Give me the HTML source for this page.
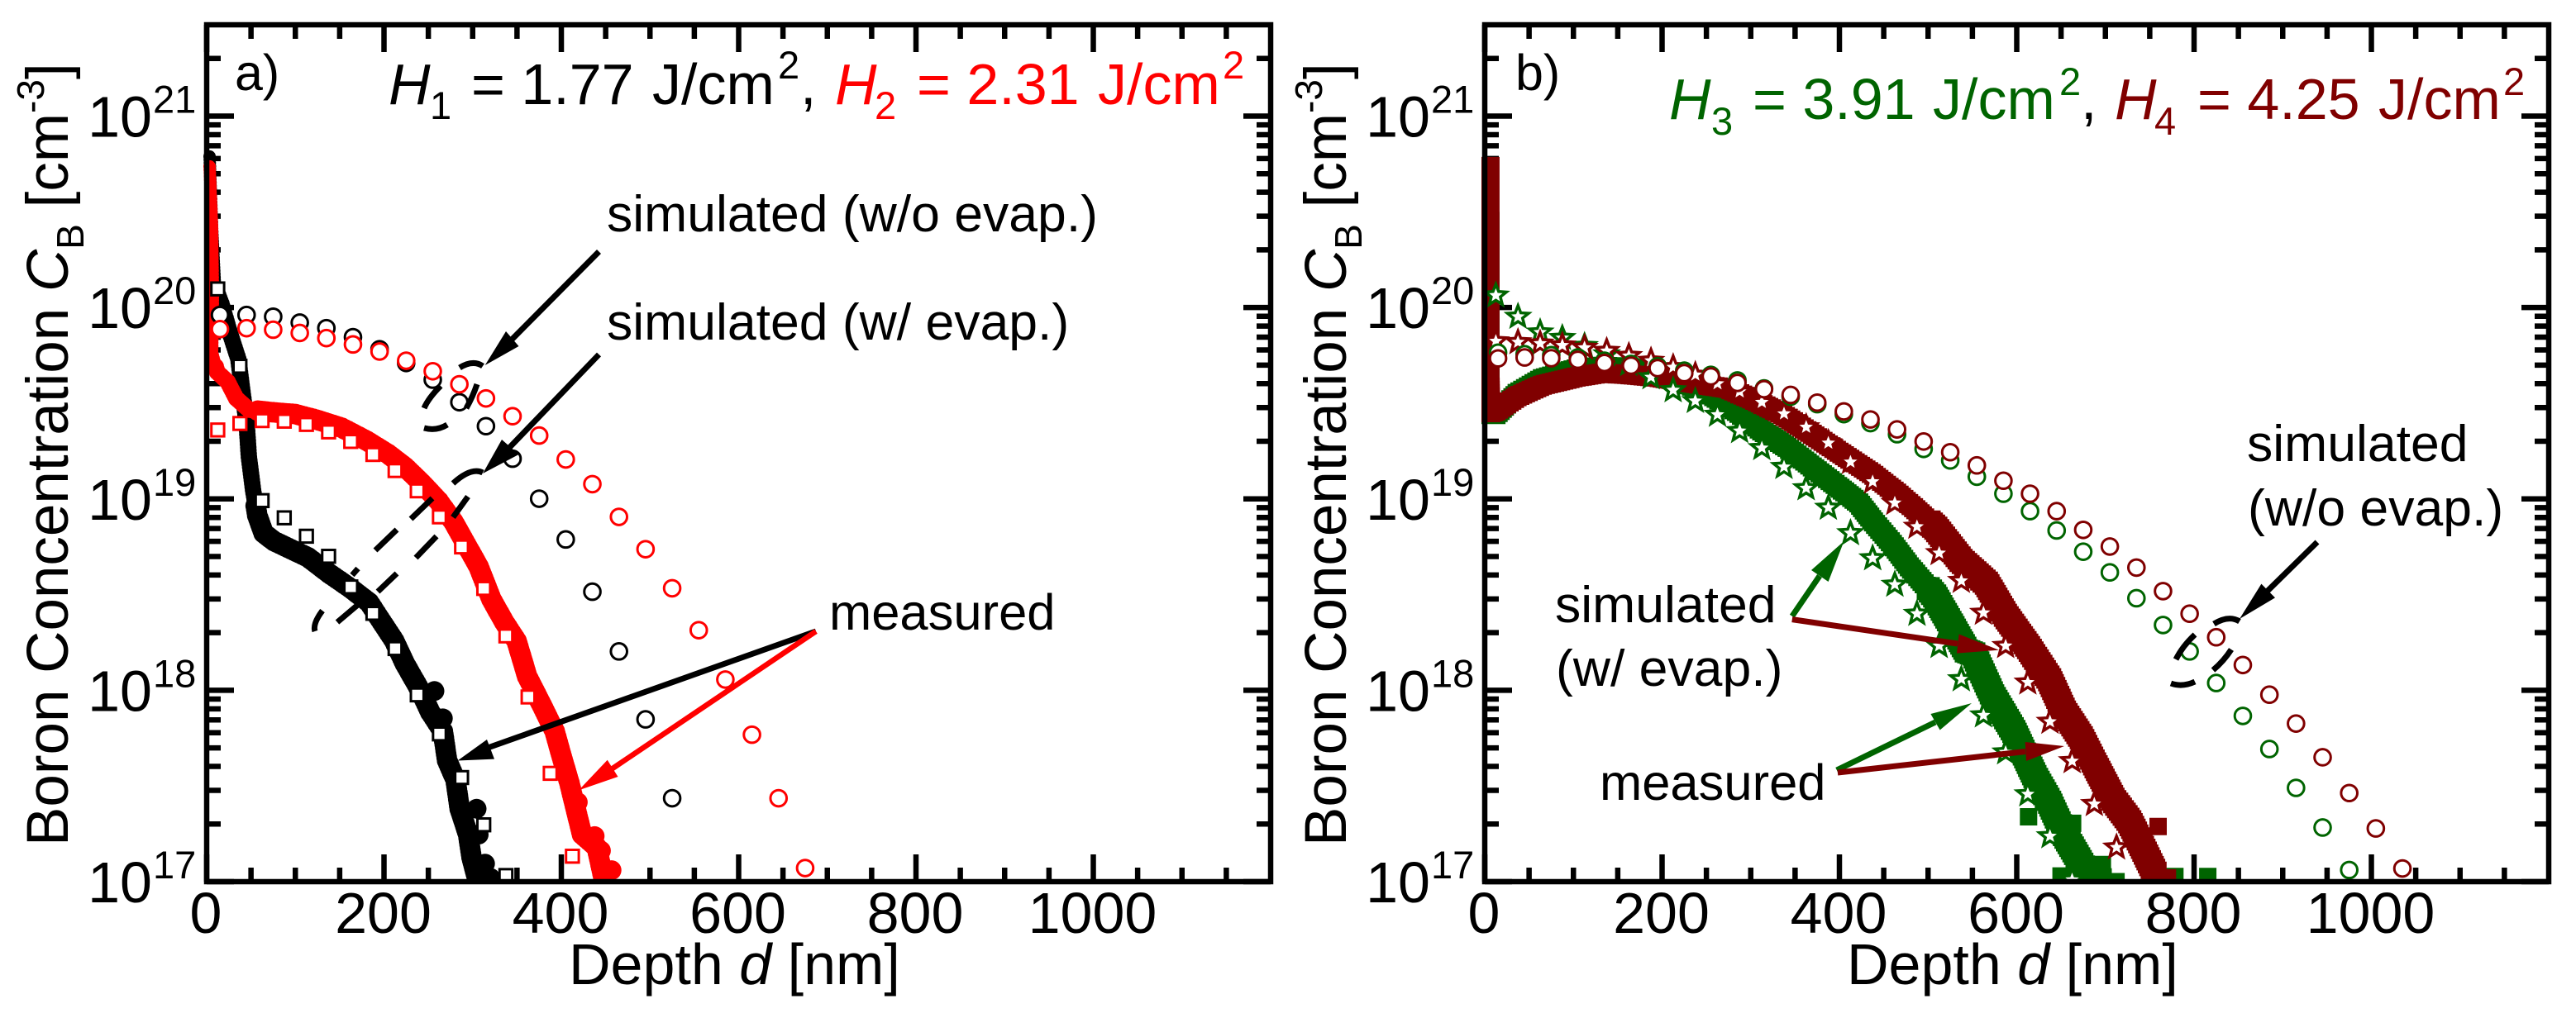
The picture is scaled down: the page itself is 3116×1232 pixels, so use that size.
<!DOCTYPE html>
<html lang="en">
<head>
<meta charset="utf-8">
<title>Boron concentration depth profiles</title>
<style>
html,body{margin:0;padding:0;background:#fff;}
body{width:3116px;height:1232px;overflow:hidden;}
svg{display:block;}
text{font-family:"Liberation Sans",Arial,sans-serif;}
</style>
</head>
<body>
<svg id="figure" xmlns="http://www.w3.org/2000/svg" width="3116" height="1232" viewBox="0 0 3116 1232">
  <defs>
    <clipPath id="clip-a"><rect x="246" y="27" width="1294" height="1040"/></clipPath>
    <clipPath id="clip-b"><rect x="1792" y="27" width="1294" height="1040"/></clipPath>
  </defs>
  <rect x="0" y="0" width="3116" height="1232" fill="#fff"/>

  <g id="panel-a">
    <g id="a-ticks"></g>
    <g id="a-marks" clip-path="url(#clip-a)"></g>
    <g id="a-frame"></g>
    <g id="a-ticklabels"></g>

    <text transform="translate(82,1024) rotate(-90)" font-size="71">Boron Concentration <tspan font-style="italic">C</tspan><tspan font-size="46" dy="19">B</tspan><tspan dy="-19"> [cm</tspan><tspan font-size="46" dy="-29">-3</tspan><tspan dy="29">]</tspan></text>
    <text x="688" y="1191" font-size="70">Depth <tspan font-style="italic">d</tspan> [nm]</text>
    <text x="284" y="109" font-size="61">a)</text>

    <g fill="#000">
      <text x="470" y="126" font-size="70" font-style="italic">H</text>
      <text x="520" y="144" font-size="47">1</text>
      <text x="570" y="126" font-size="70">= 1.77</text>
      <text x="789" y="126" font-size="70">J/cm</text>
      <text x="941" y="95" font-size="47">2</text>
      <text x="968" y="126" font-size="70">,</text>
    </g>
    <g fill="#ff0000">
      <text x="1010" y="126" font-size="70" font-style="italic">H</text>
      <text x="1058" y="144" font-size="47">2</text>
      <text x="1109" y="126" font-size="70">= 2.31</text>
      <text x="1328" y="126" font-size="70">J/cm</text>
      <text x="1479" y="95" font-size="47">2</text>
    </g>

    <text x="734" y="280" font-size="62.5">simulated (w/o evap.)</text>
    <text x="734" y="411" font-size="62.5">simulated (w/ evap.)</text>
    <text x="1003" y="762" font-size="61.5">measured</text>

    <g>
      <line x1="724.5" y1="304.5" x2="615" y2="415" stroke="#000" stroke-width="7"/>
      <polygon points="586.7,442 612,401 627.5,419" fill="#000"/>
    </g>
    <g>
      <line x1="724.5" y1="429" x2="613" y2="545" stroke="#000" stroke-width="7"/>
      <polygon points="584,573 607,532 627.5,550" fill="#000"/>
    </g>
    <g>
      <line x1="987" y1="764" x2="590" y2="905" stroke="#000" stroke-width="7"/>
      <polygon points="553.6,920.5 589,895 598,918.6" fill="#000"/>
    </g>
    <g>
      <line x1="987" y1="764" x2="738" y2="932" stroke="#ff0000" stroke-width="6.5"/>
      <polygon points="700,956.4 734.7,919.8 747.5,940" fill="#ff0000"/>
    </g>

    <g fill="none" stroke="#000" stroke-width="7">
      <path d="M556,445 Q572,435 584,443"/>
      <path d="M577,465 Q572,480 564,494"/>
      <path d="M541,514 Q528,522 513,518"/>
      <path d="M513,494 Q518,482 533,467"/>
    </g>
    <g fill="none" stroke="#000" stroke-width="7">
      <path d="M548,585 Q570,565 584,572"/>
      <path d="M523,603 L497,628"/>
      <path d="M480,641 L454,666"/>
      <path d="M566,601 L548,626"/>
      <path d="M528,649 L503,675"/>
      <path d="M480,694 L457,716"/>
      <path d="M433,688 L426,696"/>
      <path d="M434,731 L408,753"/>
      <path d="M390,739 Q378,755 381,764"/>
    </g>
  </g>

  <g id="panel-b">
    <g id="b-ticks"></g>
    <g id="b-marks" clip-path="url(#clip-b)"></g>
    <g id="b-frame"></g>
    <g id="b-ticklabels"></g>

    <text transform="translate(1628,1024) rotate(-90)" font-size="71">Boron Concentration <tspan font-style="italic">C</tspan><tspan font-size="46" dy="19">B</tspan><tspan dy="-19"> [cm</tspan><tspan font-size="46" dy="-29">-3</tspan><tspan dy="29">]</tspan></text>
    <text x="2234" y="1191" font-size="70">Depth <tspan font-style="italic">d</tspan> [nm]</text>
    <text x="1833" y="109" font-size="61">b)</text>

    <g fill="#006400">
      <text x="2019" y="144" font-size="70" font-style="italic">H</text>
      <text x="2070" y="163" font-size="47">3</text>
      <text x="2120" y="144" font-size="70">= 3.91</text>
      <text x="2338" y="144" font-size="70">J/cm</text>
      <text x="2491" y="115" font-size="47">2</text>
    </g>
    <text x="2517" y="144" font-size="70">,</text>
    <g fill="#800000">
      <text x="2558" y="144" font-size="70" font-style="italic">H</text>
      <text x="2606" y="163" font-size="47">4</text>
      <text x="2658" y="144" font-size="70">= 4.25</text>
      <text x="2877" y="144" font-size="70">J/cm</text>
      <text x="3028" y="115" font-size="47">2</text>
    </g>

    <text x="1881" y="753" font-size="62.5">simulated</text>
    <text x="1882" y="830" font-size="62.5">(w/ evap.)</text>
    <text x="1935" y="968" font-size="61.5">measured</text>
    <text x="2718" y="558" font-size="62.5">simulated</text>
    <text x="2719" y="636" font-size="62.5">(w/o evap.)</text>

    <g>
      <line x1="2167.8" y1="745.7" x2="2201" y2="697" stroke="#006400" stroke-width="7"/>
      <polygon points="2230.5,655 2191,690 2211.6,704" fill="#006400"/>
    </g>
    <g>
      <line x1="2167.8" y1="749.6" x2="2368" y2="779" stroke="#800000" stroke-width="7"/>
      <polygon points="2418,786.7 2369.6,767.5 2367,790.6" fill="#800000"/>
    </g>
    <g>
      <line x1="2221.8" y1="932" x2="2341" y2="874" stroke="#006400" stroke-width="7"/>
      <polygon points="2385,851 2335.4,864 2346.6,883.5" fill="#006400"/>
    </g>
    <g>
      <line x1="2222.9" y1="935" x2="2450" y2="909.5" stroke="#800000" stroke-width="7"/>
      <polygon points="2497,903 2449.7,898 2451,921" fill="#800000"/>
    </g>
    <g>
      <line x1="2803" y1="656" x2="2743" y2="715" stroke="#000" stroke-width="7"/>
      <polygon points="2709,749 2735.4,706.6 2752,723.4" fill="#000"/>
    </g>
    <g fill="none" stroke="#000" stroke-width="7">
      <path d="M2678,755 Q2696,744 2709,752"/>
      <path d="M2699,786 Q2690,800 2677,811"/>
      <path d="M2655,825 Q2640,832 2626,827"/>
      <path d="M2632,798 Q2640,782 2655,768"/>
    </g>
  </g>
</svg>

<script>
// ---- Axis tick values ----
const xMajorTicks = [0, 200, 400, 600, 800, 1000];
const xMinorTicks = [50, 100, 150, 250, 300, 350, 450, 500, 550, 650, 700, 750, 850, 900, 950, 1050, 1100, 1150];
const xTickLabels = ['0', '200', '400', '600', '800', '1000'];
const yDecades = [17, 18, 19, 20, 21];
const yTickBase = '10';
const yTickExponents = ['17', '18', '19', '20', '21'];
const yMinorMultipliers = [2, 3, 4, 5, 6, 7, 8, 9];

// ---- Panel a: simulated without evaporation (circles), log10(C) ----
const aCircleDepthBlack = [15, 45, 75, 105, 135, 165, 195, 225, 255, 285, 315, 345, 375, 405, 435, 465, 495, 525];
const aCircleLogBlack = [19.961, 19.961, 19.952, 19.921, 19.892, 19.845, 19.782, 19.710, 19.623, 19.505, 19.380, 19.210, 19.001, 18.788, 18.515, 18.203, 17.848, 17.436];
const aCircleDepthRed = [15, 45, 75, 105, 135, 165, 195, 225, 255, 285, 315, 345, 375, 405, 435, 465, 495, 525, 555, 585, 615, 645, 675];
const aCircleLogRed = [19.887, 19.892, 19.884, 19.867, 19.840, 19.807, 19.770, 19.722, 19.667, 19.599, 19.525, 19.432, 19.331, 19.206, 19.077, 18.906, 18.737, 18.533, 18.314, 18.056, 17.768, 17.436, 17.071];

// ---- Panel a: simulated with evaporation (squares) ----
const aSquareDepthBlack = [12.5, 37.5, 62.5, 87.5, 112.5, 137.5, 162.5, 187.5, 212.5, 237.5, 262.5, 287.5, 312.5, 337.5];
const aSquareLogBlack = [20.097, 19.693, 18.991, 18.901, 18.805, 18.700, 18.540, 18.402, 18.218, 17.976, 17.772, 17.544, 17.297, 17.032];
const aSquareDepthRed = [12.5, 37.5, 62.5, 87.5, 112.5, 137.5, 162.5, 187.5, 212.5, 237.5, 262.5, 287.5, 312.5, 337.5, 362.5, 387.5, 412.5];
const aSquareLogRed = [19.360, 19.394, 19.409, 19.406, 19.389, 19.350, 19.300, 19.232, 19.148, 19.042, 18.906, 18.749, 18.532, 18.284, 17.965, 17.566, 17.133];

// ---- Panel a: measured profiles ----
const aMeasuredDepthBlack = [3.3, 6.2, 9.5, 16.6, 26.2, 35.7, 40.4, 45.2, 47.6, 52.3, 57.1, 64.2, 76.1, 95.1, 114.2, 137.9, 161.7, 183.1, 197.4, 211.7, 223.6, 240.2, 252.1, 266.4, 271.2, 280.7, 285.4, 294.9, 298.7, 304.4, 309.2];
const aMeasuredLogBlack = [20.789, 20.413, 20.106, 20.020, 19.867, 19.730, 19.560, 19.389, 19.218, 19.047, 18.914, 18.821, 18.779, 18.737, 18.695, 18.611, 18.535, 18.459, 18.358, 18.257, 18.139, 18.004, 17.886, 17.785, 17.633, 17.532, 17.381, 17.246, 17.128, 17.027, 16.95];
const aScatterDepthBlack = [256.9, 266.4, 304.4, 306.8, 313.9, 320];
const aScatterLogBlack = [17.996, 17.853, 17.381, 17.246, 17.094, 17.02];
const aMeasuredDepthRed = [3.3, 6.2, 7.1, 6.2, 11.9, 23.8, 33.3, 47.6, 71.3, 99.9, 123.7, 152.2, 180.8, 204.5, 223.6, 242.6, 261.6, 278.3, 292.5, 306.8, 321.1, 335.4, 349.6, 361.5, 378.2, 392.5, 399.6, 409.1, 416.2, 423.4, 440, 447.2];
const aMeasuredLogRed = [20.737, 20.413, 20.072, 19.764, 19.662, 19.611, 19.525, 19.466, 19.454, 19.443, 19.414, 19.372, 19.303, 19.235, 19.167, 19.082, 18.988, 18.880, 18.763, 18.645, 18.476, 18.358, 18.257, 18.072, 17.920, 17.785, 17.667, 17.516, 17.381, 17.246, 17.179, 17.027];
const aScatterDepthRed = [385.3, 404.4, 418.6, 437.6, 444.7, 456.6, 450];
const aScatterLogRed = [17.853, 17.583, 17.415, 17.238, 17.162, 17.06, 17.02];

// ---- Panel b: measured profiles ----
const bMeasuredDepthGreen = [6, 6, 6, 6, 7, 12.7, 36.5, 65, 103, 131.6, 160.1, 193.4, 226.7, 255.3, 283.8, 312.4, 340.9, 369.4, 398, 421.8, 438.4, 459.8, 478.9, 507.4, 526.4, 543.1, 551.5, 572.9, 596.7, 620.5, 637.1, 653.8, 675.2, 694.2];
const bMeasuredLogGreen = [20.45, 20.0, 19.7, 19.45, 19.44, 19.44, 19.551, 19.628, 19.679, 19.693, 19.688, 19.662, 19.602, 19.543, 19.457, 19.355, 19.269, 19.167, 19.065, 18.979, 18.880, 18.763, 18.645, 18.493, 18.341, 18.206, 18.190, 17.971, 17.785, 17.549, 17.415, 17.246, 17.077, 17.010];
const bOutlierDepthGreen = [613.3, 778.4, 815.5, 650, 663, 696.6, 712];
const bOutlierLogGreen = [17.339, 17.027, 17.027, 17.03, 17.305, 17.09, 17.0];
const bMeasuredDepthDarkRed = [6, 6, 6, 6, 7, 12.7, 36.5, 65, 103, 131.6, 160.1, 193.4, 226.7, 274.3, 307.6, 336.1, 369.4, 402.7, 436, 464.6, 483.6, 508.7, 537.2, 565.8, 587.2, 613.3, 637.1, 653.8, 672.8, 689.5, 708.5, 727.5, 741.8, 756];
const bMeasuredLogDarkRed = [20.737, 20.3, 19.9, 19.6, 19.45, 19.46, 19.534, 19.594, 19.636, 19.657, 19.650, 19.636, 19.611, 19.577, 19.508, 19.440, 19.338, 19.235, 19.133, 19.030, 18.954, 18.847, 18.678, 18.560, 18.392, 18.223, 18.055, 17.886, 17.752, 17.600, 17.431, 17.313, 17.179, 17.044];
const bOutlierDepthDarkRed = [759.4, 770];
const bOutlierLogDarkRed = [17.288, 17.02];

// ---- Panel b: simulated with evaporation (stars) ----
const bStarDepthGreen = [12.5, 37.5, 62.5, 87.5, 112.5, 137.5, 162.5, 187.5, 212.5, 237.5, 262.5, 287.5, 312.5, 337.5, 362.5, 387.5, 412.5, 437.5, 462.5, 487.5, 512.5, 537.5, 562.5, 587.5, 612.5, 637.5, 662.5];
const bStarLogGreen = [20.063, 19.952, 19.870, 19.841, 19.799, 19.756, 19.705, 19.636, 19.568, 19.512, 19.440, 19.355, 19.266, 19.167, 19.056, 18.954, 18.821, 18.690, 18.552, 18.400, 18.232, 18.058, 17.869, 17.676, 17.457, 17.238, 17.010];
const bStarDepthDarkRed = [12.5, 37.5, 62.5, 87.5, 112.5, 137.5, 162.5, 187.5, 212.5, 237.5, 262.5, 287.5, 312.5, 337.5, 362.5, 387.5, 412.5, 437.5, 462.5, 487.5, 512.5, 537.5, 562.5, 587.5, 612.5, 637.5, 662.5, 687.5, 712.5];
const bStarLogDarkRed = [19.824, 19.819, 19.812, 19.802, 19.790, 19.773, 19.747, 19.722, 19.688, 19.648, 19.602, 19.560, 19.505, 19.445, 19.375, 19.292, 19.193, 19.090, 18.979, 18.855, 18.717, 18.572, 18.405, 18.232, 18.041, 17.836, 17.630, 17.406, 17.179];

// ---- Panel b: simulated without evaporation (circles) ----
const bCircleDepthGreen = [15, 45, 75, 105, 135, 165, 195, 225, 255, 285, 315, 345, 375, 405, 435, 465, 495, 525, 555, 585, 615, 645, 675, 705, 735, 765, 795, 825, 855, 885, 915, 945, 975];
const bCircleLogGreen = [19.764, 19.756, 19.751, 19.739, 19.722, 19.705, 19.693, 19.670, 19.648, 19.619, 19.577, 19.534, 19.495, 19.443, 19.396, 19.338, 19.261, 19.201, 19.116, 19.027, 18.936, 18.835, 18.724, 18.616, 18.481, 18.341, 18.203, 18.038, 17.866, 17.693, 17.490, 17.283, 17.061];
const bCircleDepthDarkRed = [15, 45, 75, 105, 135, 165, 195, 225, 255, 285, 315, 345, 375, 405, 435, 465, 495, 525, 555, 585, 615, 645, 675, 705, 735, 765, 795, 825, 855, 885, 915, 945, 975, 1005, 1035];
const bCircleLogDarkRed = [19.734, 19.739, 19.735, 19.727, 19.710, 19.696, 19.683, 19.657, 19.640, 19.606, 19.573, 19.543, 19.503, 19.457, 19.415, 19.363, 19.300, 19.244, 19.175, 19.095, 19.027, 18.936, 18.838, 18.751, 18.641, 18.518, 18.400, 18.277, 18.132, 17.977, 17.826, 17.650, 17.463, 17.278, 17.069];

// ---- Axis geometry and scale functions ----
const xDomainMax = 1200;
const yLogMin = 17;
const yLogMax = Math.log10(3e21);
const panelA = { left: 250, right: 1537, top: 30, bottom: 1067, key: 'a' };
const panelB = { left: 1796, right: 3083, top: 30, bottom: 1067, key: 'b' };
const SVG_NS = 'http://www.w3.org/2000/svg';

function xScale(panel, depth) {
  return panel.left + depth / xDomainMax * (panel.right - panel.left);
}
function yScale(panel, logValue) {
  return panel.bottom - (logValue - yLogMin) / (yLogMax - yLogMin) * (panel.bottom - panel.top);
}
function make(tag, attrs) {
  const el = document.createElementNS(SVG_NS, tag);
  for (const k in attrs) el.setAttribute(k, attrs[k]);
  return el;
}

function drawAxes(panel) {
  const tickLayer = document.getElementById(panel.key + '-ticks');
  const labelLayer = document.getElementById(panel.key + '-ticklabels');
  const frameLayer = document.getElementById(panel.key + '-frame');
  const majorLen = 33, minorLen = 17, w = 6.5;

  function tickLine(x1, y1, x2, y2, name) {
    const t = make('line', { x1: x1, y1: y1, x2: x2, y2: y2, stroke: '#000', 'stroke-width': w });
    
    
    tickLayer.appendChild(t);
  }

  xMajorTicks.forEach(function (d, i) {
    const x = xScale(panel, d);
    tickLine(x, panel.bottom, x, panel.bottom - majorLen, 'x-major-tick-bottom');
    tickLine(x, panel.top, x, panel.top + majorLen, 'x-major-tick-top');
    const label = make('text', { x: x - 1, y: 1129, 'font-size': 70, 'text-anchor': 'middle' });
    label.textContent = xTickLabels[i];
    
    
    labelLayer.appendChild(label);
  });
  xMinorTicks.forEach(function (d) {
    const x = xScale(panel, d);
    tickLine(x, panel.bottom, x, panel.bottom - minorLen, 'x-minor-tick-bottom');
    tickLine(x, panel.top, x, panel.top + minorLen, 'x-minor-tick-top');
  });

  yDecades.forEach(function (decade, i) {
    const y = yScale(panel, decade);
    tickLine(panel.left, y, panel.left + majorLen, y, 'y-major-tick-left');
    tickLine(panel.right, y, panel.right - majorLen, y, 'y-major-tick-right');
    const base = make('text', { x: panel.left - 66, y: y + 25, 'font-size': 70, 'text-anchor': 'end' });
    base.textContent = yTickBase;
    
    
    labelLayer.appendChild(base);
    const sup = make('text', { x: panel.left - 65, y: y - 4, 'font-size': 47 });
    sup.textContent = yTickExponents[i];
    
    
    labelLayer.appendChild(sup);
    yMinorMultipliers.forEach(function (m) {
      const lg = decade + Math.log10(m);
      if (lg >= yLogMax) return;
      const ym = yScale(panel, lg);
      tickLine(panel.left, ym, panel.left + minorLen, ym, 'y-minor-tick-left');
      tickLine(panel.right, ym, panel.right - minorLen, ym, 'y-minor-tick-right');
    });
  });

  const frame = make('rect', { x: panel.left, y: panel.top, width: panel.right - panel.left, height: panel.bottom - panel.top, fill: 'none', stroke: '#000', 'stroke-width': w });
  
  
  frameLayer.appendChild(frame);
}

function seriesGroup(panel, name) {
  const g = make('g', {});
  
  
  document.getElementById(panel.key + '-marks').appendChild(g);
  return g;
}

// Sub-path for one stamp of the marker brush
function squareStamp(x, y, s) {
  return 'M' + (x - s / 2).toFixed(1) + ' ' + (y - s / 2).toFixed(1) + 'h' + s + 'v' + s + 'h' + (-s) + 'z';
}
function roundStamp(x, y, s) {
  const r = s / 2;
  return 'M' + (x - r).toFixed(1) + ' ' + y.toFixed(1) + 'a' + r + ' ' + r + ' 0 1 0 ' + s + ' 0a' + r + ' ' + r + ' 0 1 0 ' + (-s) + ' 0z';
}

// Brush a dense measured profile: the marker is stamped along the path joining the read values
function brushPath(panel, depths, logs, stamp, sizeOf) {
  let d = '';
  for (let i = 0; i < depths.length - 1; i++) {
    const x0 = xScale(panel, depths[i]), y0 = yScale(panel, logs[i]);
    const x1 = xScale(panel, depths[i + 1]), y1 = yScale(panel, logs[i + 1]);
    const n = Math.max(1, Math.ceil(Math.hypot(x1 - x0, y1 - y0) / 4));
    for (let k = 0; k <= n; k++) {
      const t = k / n;
      d += stamp(x0 + (x1 - x0) * t, y0 + (y1 - y0) * t, sizeOf(depths[i] + (depths[i + 1] - depths[i]) * t));
    }
  }
  return d;
}

function scatterPath(panel, depths, logs, stamp, size) {
  let d = '';
  depths.forEach(function (v, i) {
    d += stamp(xScale(panel, v), yScale(panel, logs[i]), size);
  });
  return d;
}

function blobSize(depth) {
  if (depth < 10) return 15;
  if (depth < 55) return 20;
  return 25;
}
function blockSize(depth) {
  return depth < 500 ? 23 : 28;
}

function drawMeasured(panel, depths, logs, sDepths, sLogs, color, stamp, sizeOf, scatterSize, name) {
  const g = seriesGroup(panel, name);
  const band = make('path', { d: brushPath(panel, depths, logs, stamp, sizeOf), fill: color });
  
  
  g.appendChild(band);
  const scatter = make('path', { d: scatterPath(panel, sDepths, sLogs, stamp, scatterSize), fill: color });
  
  
  g.appendChild(scatter);
}

function drawCircles(panel, depths, logs, color, name) {
  const g = seriesGroup(panel, name);
  depths.forEach(function (d, i) {
    const c = make('circle', { cx: xScale(panel, d), cy: yScale(panel, logs[i]), r: 9.8, fill: '#fff', stroke: color, 'stroke-width': 3 });
    
    
    g.appendChild(c);
  });
}

function drawSquares(panel, depths, logs, color, name) {
  const g = seriesGroup(panel, name);
  depths.forEach(function (d, i) {
    const s = make('rect', { x: xScale(panel, d) - 7.7, y: yScale(panel, logs[i]) - 7.7, width: 15.4, height: 15.4, fill: '#fff', stroke: color, 'stroke-width': 3 });
    
    
    g.appendChild(s);
  });
}

function starPoints(cx, cy) {
  const out = [];
  for (let k = 0; k < 10; k++) {
    const r = k % 2 === 0 ? 13.5 : 5.8;
    const a = -Math.PI / 2 + k * Math.PI / 5;
    out.push((cx + r * Math.cos(a)).toFixed(1) + ',' + (cy + r * Math.sin(a)).toFixed(1));
  }
  return out.join(' ');
}

function drawStars(panel, depths, logs, color, name) {
  const g = seriesGroup(panel, name);
  depths.forEach(function (d, i) {
    const s = make('polygon', { points: starPoints(xScale(panel, d), yScale(panel, logs[i])), fill: '#fff', stroke: color, 'stroke-width': 3.5 });
    
    
    g.appendChild(s);
  });
}

const RED = '#ff0000', BLACK = '#000000', GREEN = '#006400', DARKRED = '#800000';

drawAxes(panelA);
drawAxes(panelB);

// Panel a, back to front
drawMeasured(panelA, aMeasuredDepthBlack, aMeasuredLogBlack, aScatterDepthBlack, aScatterLogBlack, BLACK, roundStamp, blobSize, 24, 'measured-h1');
drawMeasured(panelA, aMeasuredDepthRed, aMeasuredLogRed, aScatterDepthRed, aScatterLogRed, RED, roundStamp, blobSize, 24, 'measured-h2');
drawSquares(panelA, aSquareDepthBlack, aSquareLogBlack, BLACK, 'simulated-evap-h1');
drawSquares(panelA, aSquareDepthRed, aSquareLogRed, RED, 'simulated-evap-h2');
drawCircles(panelA, aCircleDepthBlack, aCircleLogBlack, BLACK, 'simulated-no-evap-h1');
drawCircles(panelA, aCircleDepthRed, aCircleLogRed, RED, 'simulated-no-evap-h2');

// Panel b, back to front
drawMeasured(panelB, bMeasuredDepthGreen, bMeasuredLogGreen, bOutlierDepthGreen, bOutlierLogGreen, GREEN, squareStamp, blockSize, 21, 'measured-h3');
drawMeasured(panelB, bMeasuredDepthDarkRed, bMeasuredLogDarkRed, bOutlierDepthDarkRed, bOutlierLogDarkRed, DARKRED, squareStamp, blockSize, 21, 'measured-h4');
drawStars(panelB, bStarDepthGreen, bStarLogGreen, GREEN, 'simulated-evap-h3');
drawStars(panelB, bStarDepthDarkRed, bStarLogDarkRed, DARKRED, 'simulated-evap-h4');
drawCircles(panelB, bCircleDepthGreen, bCircleLogGreen, GREEN, 'simulated-no-evap-h3');
drawCircles(panelB, bCircleDepthDarkRed, bCircleLogDarkRed, DARKRED, 'simulated-no-evap-h4');
</script>
</body>
</html>
